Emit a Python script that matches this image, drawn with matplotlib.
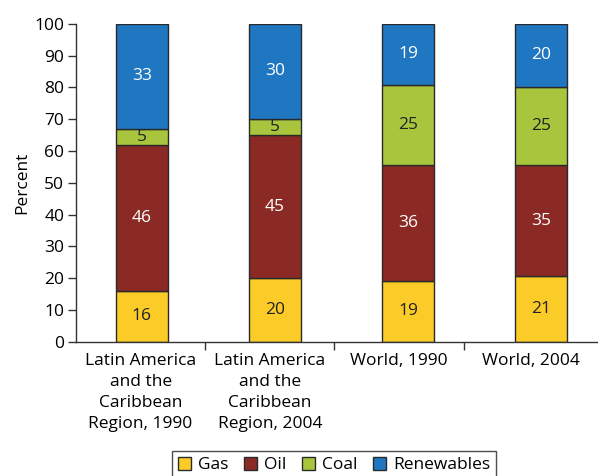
import numpy as np
import matplotlib
matplotlib.use("Agg")
import matplotlib.pyplot as plt

plt.rcParams['font.family'] = ['Open Sans', 'DejaVu Sans']

# categories and shares (percent), bottom to top: gas, oil, coal, renewables
categories = ["Latin America\nand the\nCaribbean\nRegion, 1990",
              "Latin America\nand the\nCaribbean\nRegion, 2004",
              "World, 1990",
              "World, 2004"]
gas = [16, 20, 19, 21]
oil = [46, 45, 36, 35]
coal = [5, 5, 25, 25]
renewables = [33, 30, 19, 20]

series = [("Gas", gas, "#FBCB27", "#222222"),
          ("Oil", oil, "#8B2A25", "white"),
          ("Coal", coal, "#A8C53D", "#222222"),
          ("Renewables", renewables, "#1F77C1", "white")]

FS = 12.5

fig = plt.figure(figsize=(5.98, 4.76), dpi=100)
ax = fig.add_axes([0.127, 0.282, 0.871, 0.668])

# bars are scaled so every column reaches 100
totals = np.array(gas) + np.array(oil) + np.array(coal) + np.array(renewables)
x = np.arange(len(categories)) * 1.03 + 0.51
bottom = np.zeros(len(categories))
handles = []
for name, vals, color, tcol in series:
    h = np.array(vals) / totals * 100
    b = ax.bar(x, h, 0.40, bottom=bottom, color=color, edgecolor="#2a2a2a",
               linewidth=1.0, label=name)
    handles.append(b)
    for xi, bi, hi, v in zip(x, bottom, h, vals):
        ax.text(xi, bi + hi / 2, str(v), ha="center", va="center",
                color=tcol, fontsize=FS)
    bottom += h

ax.set_xlim(0, 4.03)
ax.set_ylim(0, 100)
ax.set_yticks(np.arange(0, 101, 10))
ax.tick_params(axis="y", labelsize=FS, length=5.5, width=1, color="#333333", pad=3)
ax.set_ylabel("Percent", fontsize=FS, labelpad=3)

ax.set_xticks([0.5, 1.5, 2.5, 3.52])
ax.set_xticklabels(categories, fontsize=FS, linespacing=1.42)
ax.tick_params(axis="x", length=0, pad=8)
ax.set_xticks([1, 2, 3], minor=True)
ax.tick_params(axis="x", which="minor", length=6, width=1, color="#333333")

for s in ["top", "right"]:
    ax.spines[s].set_visible(False)
for s in ["left", "bottom"]:
    ax.spines[s].set_color("#333333")
    ax.spines[s].set_linewidth(1.0)

leg = fig.legend(handles=handles, loc="upper center", bbox_to_anchor=(0.559, 0.053),
                 ncol=4, fontsize=FS, frameon=True, fancybox=False,
                 edgecolor="#222222", handlelength=0.75, handleheight=0.75,
                 handletextpad=0.4, columnspacing=0.9, borderpad=0.35,
                 borderaxespad=0)
leg.get_frame().set_linewidth(1.0)

fig.savefig("out.png", dpi=100)
